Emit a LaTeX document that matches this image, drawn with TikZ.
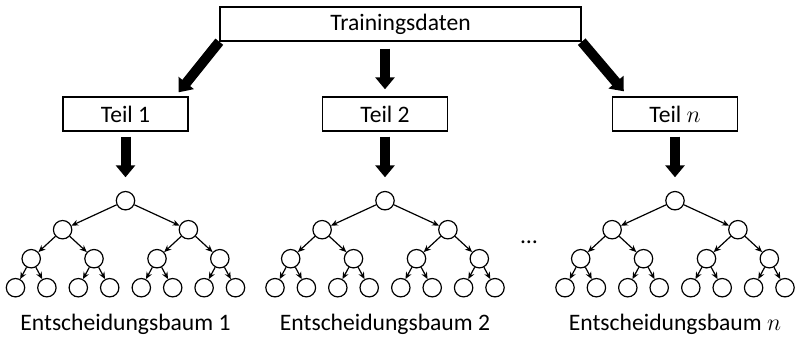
\documentclass[tikz,border=0pt]{standalone}
\usepackage{fontspec}
\setmainfont{Carlito}
\usetikzlibrary{arrows.meta}

\begin{document}
\begin{tikzpicture}[x=0.5pt,y=-0.5pt,
    font=\fontsize{11.8pt}{14pt}\selectfont,
    box/.style={draw,rectangle,line width=0.7pt,inner sep=0pt,minimum height=17pt},
    knot/.style={draw,circle,line width=0.6pt,inner sep=0pt,minimum size=9.2pt},
    bigarrow/.style={line width=5pt,-{Triangle[width=9.5pt,length=6pt]}},
    level distance=14.5pt,
    level 1/.style={sibling distance=62.9pt},
    level 2/.style={sibling distance=31.4pt},
    level 3/.style={sibling distance=15.7pt},
    edge from parent/.style={draw,line width=0.6pt,-{Stealth[length=3.5pt,width=3pt]}}]
    \pgfmathsetmacro{\yteil}{114}
    \pgfmathsetmacro{\yroot}{200.7}

    \useasboundingbox (0,0) rectangle (796,337);

    % training data
    \node[box,minimum width=180.5pt] (train) at (400.5,24) {Trainingsdaten};

    % parts, trees and labels
    \foreach \x/\i/\t in {125.5/1/1, 385/2/2, 675/n/$n$} {
        \node[box,minimum width=62.5pt] (teil\i) at (\x,\yteil) {Teil \t};
        \node[knot] (root\i) at (\x,\yroot) {}
            child foreach \a in {1,2} {node[knot] {}
                child foreach \b in {1,2} {node[knot] {}
                    child foreach \c in {1,2} {node[knot] {}}}};
        \node (label\i) at (\x,324) {Entscheidungsbaum \t};
        \draw[bigarrow,shorten <=2.5pt,shorten >=6.8pt] (teil\i) -- (root\i);
    }

    % arrows from training data
    \draw[bigarrow] (train.south west) -- ([xshift=-5pt,yshift=2pt]teil1.north east);
    \draw[bigarrow,shorten <=3.5pt,shorten >=3.5pt] (train.south -| teil2.north) -- (teil2.north);
    \draw[bigarrow] (train.south east) -- ([xshift=6pt,yshift=2.5pt]teiln.north west);

    % dots
    \node (dots) at (529,242) {\dots};
\end{tikzpicture}
\end{document}
